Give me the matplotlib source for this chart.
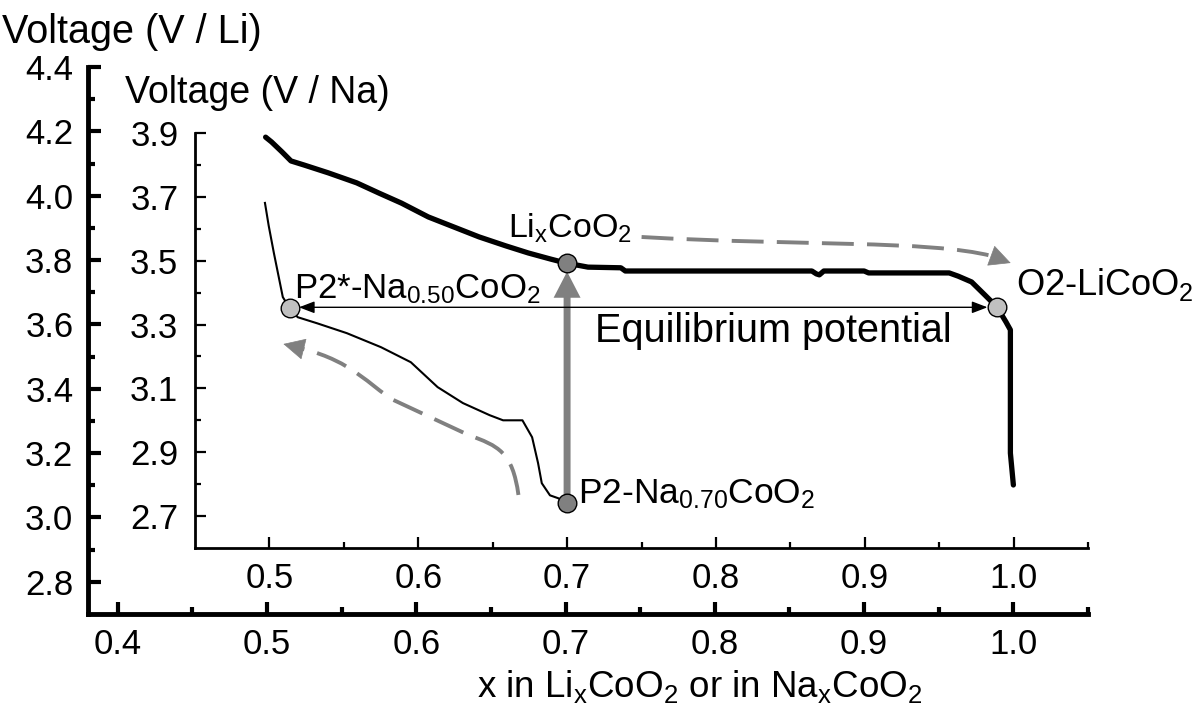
import matplotlib
matplotlib.use("Agg")
import matplotlib.pyplot as plt
from matplotlib.path import Path
from matplotlib.patches import PathPatch
from matplotlib.ticker import FixedLocator, FormatStrFormatter

plt.rcParams['font.family'] = ['Liberation Sans', 'DejaVu Sans']
plt.rcParams['mathtext.fontset'] = 'custom'
plt.rcParams['mathtext.rm'] = 'Liberation Sans'
plt.rcParams['mathtext.it'] = 'Liberation Sans'
plt.rcParams['mathtext.default'] = 'regular'

# ---------------- data ----------------
# LixCoO2 charge curve (V vs Li)
li_x = [0.499, 0.503, 0.510, 0.516, 0.525, 0.541, 0.560, 0.575, 0.590, 0.608,
        0.625, 0.642, 0.660, 0.675, 0.690, 0.700, 0.715, 0.737, 0.740, 0.800,
        0.865, 0.868, 0.870, 0.873, 0.900, 0.903, 0.957, 0.963, 0.972, 0.981,
        0.989, 0.995, 0.998, 0.998, 1.000]
li_v = [4.182, 4.167, 4.136, 4.108, 4.095, 4.071, 4.040, 4.008, 3.977, 3.934,
        3.903, 3.872, 3.844, 3.822, 3.803, 3.791, 3.778, 3.776, 3.766, 3.766,
        3.766, 3.757, 3.754, 3.766, 3.766, 3.760, 3.760, 3.750, 3.732, 3.691,
        3.654, 3.608, 3.583, 3.200, 3.101]

# NaxCoO2 curve (V vs Na)
na_x = [0.497, 0.4995, 0.503, 0.509, 0.5136, 0.519, 0.532, 0.552, 0.575, 0.595,
        0.613, 0.630, 0.648, 0.657, 0.670, 0.6765, 0.6805, 0.683, 0.6885, 0.694,
        0.700]
na_v = [3.681, 3.610, 3.524, 3.386, 3.351, 3.323, 3.304, 3.273, 3.229, 3.182,
        3.104, 3.054, 3.016, 3.000, 3.000, 2.947, 2.866, 2.803, 2.765, 2.756,
        2.740]

# marked compositions (x, V vs Na)
mark_x = [0.700, 0.700, 0.5136, 0.9887]
mark_v = [3.494, 2.740, 3.351, 3.354]
mark_fill = ['#808080', '#808080', '#c0c0c0', '#c0c0c0']

# labels (x, V vs Na)
labels = [r'Li$_x$CoO$_2$', r'P2*-Na$_{0.50}$CoO$_2$', r'P2-Na$_{0.70}$CoO$_2$',
          r'O2-LiCoO$_2$', 'Equilibrium potential']
label_x = [0.6604, 0.5163, 0.7073, 1.0015, 0.7187]
label_v = [3.571, 3.383, 2.740, 3.392, 3.245]
label_size = [24.5, 25, 25.5, 26, 28.5]

# dashed guide arrows (x, V vs Li)
g1_x = [0.7509, 0.8561, 0.9432, 0.9855]
g1_v = [3.8717, 3.8438, 3.8624, 3.8127]
g1_tip = (0.9982, 3.7909)
g2_x = [0.6684, 0.6644, 0.6551, 0.6349, 0.5846, 0.5679, 0.5578, 0.5243]
g2_v = [3.0700, 3.2036, 3.2222, 3.2564, 3.3652, 3.4118, 3.4833, 3.5237]
g2_tip = (0.5109, 3.5392)

li_xticks = [0.4, 0.5, 0.6, 0.7, 0.8, 0.9, 1.0]
li_xminor = [0.45, 0.55, 0.65, 0.75, 0.85, 0.95, 1.05]
li_yticks = [2.8, 3.0, 3.2, 3.4, 3.6, 3.8, 4.0, 4.2, 4.4]
li_yminor = [2.9, 3.1, 3.3, 3.5, 3.7, 3.9, 4.1, 4.3]
na_xticks = [0.5, 0.6, 0.7, 0.8, 0.9, 1.0]
na_xminor = [0.55, 0.65, 0.75, 0.85, 0.95, 1.05]
na_yticks = [2.7, 2.9, 3.1, 3.3, 3.5, 3.7, 3.9]
na_yminor = [2.8, 3.0, 3.2, 3.4, 3.6, 3.8]

GRAY = '#808080'

# ---------------- figure ----------------
W, H = 1203, 715
fig = plt.figure(figsize=(W / 100, H / 100), dpi=100)

ax_li = fig.add_axes([88 / W, 1 - 614 / H, 1000 / W, 547 / H])
ax_na = fig.add_axes([195 / W, 1 - 548 / H, 893 / W, 415 / H])

for ax in (ax_li, ax_na):
    ax.patch.set_visible(False)
    ax.spines['top'].set_visible(False)
    ax.spines['right'].set_visible(False)
    ax.xaxis.set_major_formatter(FormatStrFormatter('%.1f'))
    ax.yaxis.set_major_formatter(FormatStrFormatter('%.1f'))

ax_li.set_xlim(0.38, 1.05)
ax_li.set_ylim(2.7, 4.4)
ax_na.set_xlim(0.45, 1.05)
ax_na.set_ylim(2.6, 3.9)

ax_li.xaxis.set_major_locator(FixedLocator(li_xticks))
ax_li.xaxis.set_minor_locator(FixedLocator(li_xminor))
ax_li.yaxis.set_major_locator(FixedLocator(li_yticks))
ax_li.yaxis.set_minor_locator(FixedLocator(li_yminor))
ax_na.xaxis.set_major_locator(FixedLocator(na_xticks))
ax_na.xaxis.set_minor_locator(FixedLocator(na_xminor))
ax_na.yaxis.set_major_locator(FixedLocator(na_yticks))
ax_na.yaxis.set_minor_locator(FixedLocator(na_yminor))

for sp in ('left', 'bottom'):
    ax_li.spines[sp].set_linewidth(3.5)
    ax_na.spines[sp].set_linewidth(2.0)

ax_li.tick_params(which='major', direction='in', length=9, width=3, labelsize=25)
ax_li.tick_params(which='minor', direction='in', length=5, width=3)
ax_li.xaxis.set_tick_params(which='major', pad=10)
ax_li.yaxis.set_tick_params(which='major', pad=10.5)
ax_na.tick_params(which='major', direction='in', length=8, width=1.6, labelsize=25)
ax_na.tick_params(which='minor', direction='in', length=4.5, width=1.6)
ax_na.xaxis.set_tick_params(which='major', pad=10)
ax_na.yaxis.set_tick_params(which='major', pad=12)

# curves
ax_li.plot(li_x, li_v, color='black', lw=3.8, solid_joinstyle='round', solid_capstyle='round')
ax_na.plot(na_x, na_v, color='black', lw=1.5, zorder=2)

# dashed guide arrows
p1 = Path(list(zip(g1_x, g1_v)), [Path.MOVETO, Path.CURVE4, Path.CURVE4, Path.CURVE4])
ax_li.add_patch(PathPatch(p1, fill=False, ec=GRAY, lw=2.8, linestyle=(0, (8.2, 3.4)), capstyle='butt'))
ax_li.annotate('', xy=g1_tip, xytext=(g1_x[-1], g1_v[-1]),
               arrowprops=dict(arrowstyle='-|>,head_length=0.72,head_width=0.36', mutation_scale=20,
                               fc=GRAY, ec=GRAY, lw=0.5, shrinkA=0, shrinkB=0))
p2 = Path(list(zip(g2_x, g2_v)), [Path.MOVETO, Path.CURVE4, Path.CURVE4, Path.CURVE4,
                                  Path.LINETO, Path.CURVE4, Path.CURVE4, Path.CURVE4])
ax_li.add_patch(PathPatch(p2, fill=False, ec=GRAY, lw=2.8, linestyle=(0, (8.2, 3.4)), capstyle='butt'))
ax_li.annotate('', xy=g2_tip, xytext=(g2_x[-1], g2_v[-1]),
               arrowprops=dict(arrowstyle='-|>,head_length=0.72,head_width=0.36', mutation_scale=20,
                               fc=GRAY, ec=GRAY, lw=0.5, shrinkA=0, shrinkB=0))

# vertical gray arrow (P2-Na0.70 -> LixCoO2)
ax_na.annotate('', xy=(mark_x[0], mark_v[0]), xytext=(mark_x[1], mark_v[1]),
               arrowprops=dict(arrowstyle='simple,head_length=0.94,head_width=0.97,tail_width=0.25',
                               mutation_scale=20, fc=GRAY, ec='none', shrinkA=0, shrinkB=6.5),
               zorder=3)

# equilibrium potential double arrow
ax_na.annotate('', xy=(mark_x[3], mark_v[3]), xytext=(mark_x[2], mark_v[3]),
               arrowprops=dict(arrowstyle='<|-|>,head_length=0.47,head_width=0.18', mutation_scale=20,
                               fc='black', ec='black', lw=1.0, shrinkA=6.7, shrinkB=6.7),
               zorder=3)

# markers
for mx, mv, fc in zip(mark_x, mark_v, mark_fill):
    ax_na.plot([mx], [mv], 'o', ms=13.4, mfc=fc, mec='black', mew=1.0, zorder=5, clip_on=False)

# labels
for t, lx, lv, fs in zip(labels, label_x, label_v, label_size):
    ax_na.text(lx, lv, t, fontsize=fs, ha='left', va='baseline', zorder=6)

# axis titles
fig.text(2 / W, 1 - 43 / H, 'Voltage (V / Li)', fontsize=28.5, ha='left', va='baseline')
fig.text(125 / W, 1 - 103 / H, 'Voltage (V / Na)', fontsize=27, ha='left', va='baseline')
fig.text(477 / W, 1 - 697 / H, r'x in Li$_x$CoO$_2$ or in Na$_x$CoO$_2$', fontsize=26.5,
         ha='left', va='baseline')

fig.savefig('out.png', dpi=100)
